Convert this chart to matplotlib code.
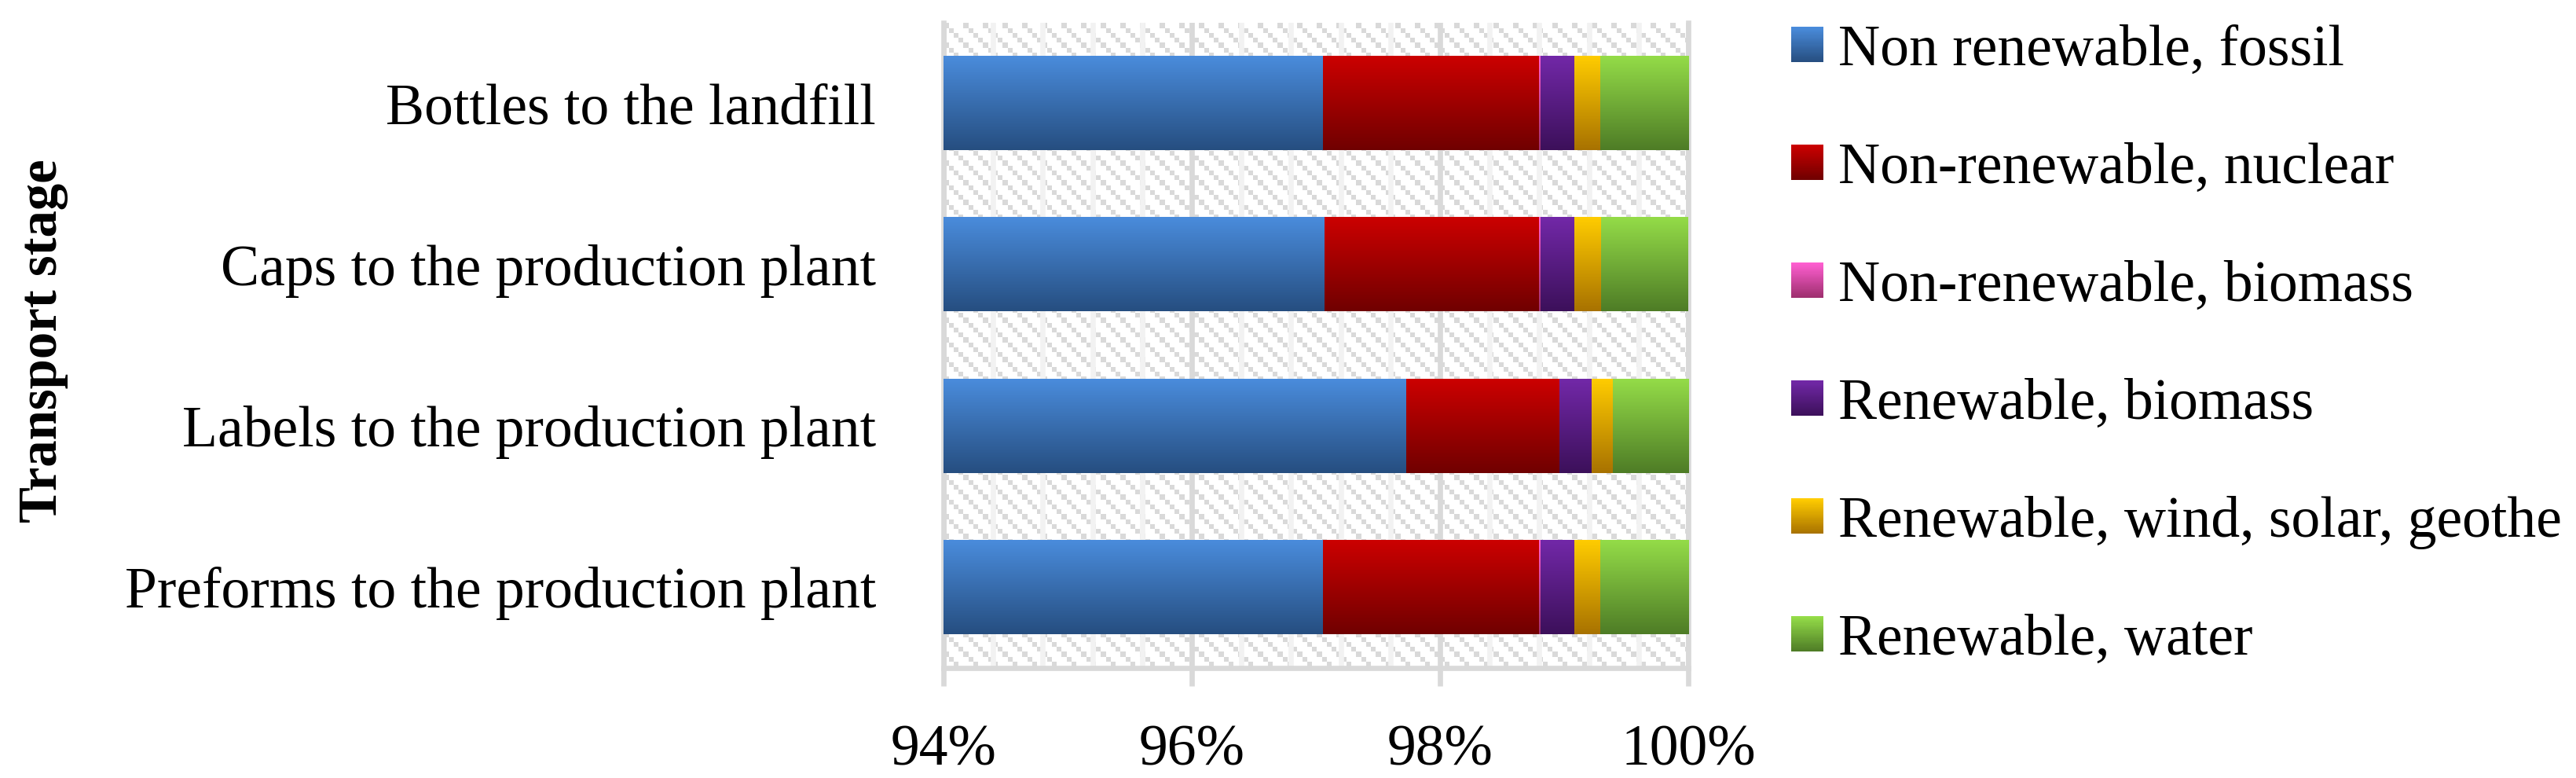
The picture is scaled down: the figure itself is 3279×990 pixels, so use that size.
import numpy as np
import matplotlib
matplotlib.use("Agg")
import matplotlib.pyplot as plt
from matplotlib.colors import LinearSegmentedColormap, to_rgb
from matplotlib.patches import Patch, Rectangle
from matplotlib.legend_handler import HandlerBase
from matplotlib.ticker import FixedLocator, MultipleLocator

# ---------------- data ----------------
categories = ["Preforms to the production plant",
              "Labels to the production plant",
              "Caps to the production plant",
              "Bottles to the landfill"]
series_names = ["Non renewable, fossil",
                "Non-renewable, nuclear",
                "Non-renewable, biomass",
                "Renewable, biomass",
                "Renewable, wind, solar, geothe",
                "Renewable, water"]
fossil = [97.06, 97.73, 97.07, 97.06]
nuclear = [1.74, 1.23, 1.73, 1.74]
nr_biomass = [0.01, 0.00, 0.01, 0.01]
r_biomass = [0.27, 0.26, 0.27, 0.27]
wind_solar = [0.21, 0.17, 0.22, 0.21]
water = [0.71, 0.61, 0.70, 0.71]
xticks = [94, 96, 98, 100]
xtick_labels = ["94%", "96%", "98%", "100%"]
y_title = "Transport stage"

series_values = [fossil, nuclear, nr_biomass, r_biomass, wind_solar, water]
grad_top = ["#4A8CDC", "#CC0000", "#FF5FD2", "#7228A8", "#FFCC00", "#94DC48"]
grad_bot = ["#264E80", "#700000", "#9E2F6E", "#3C105A", "#A87200", "#4E7C26"]

FONT = "Liberation Serif"
FS = 53

W_PX, H_PX = 3279, 990
fig = plt.figure(figsize=(W_PX / 100, H_PX / 100), dpi=100)
ax_l, ax_r, ax_t, ax_b = 1201, 2149, 29, 850
ax = fig.add_axes([ax_l / W_PX, 1 - ax_b / H_PX, (ax_r - ax_l) / W_PX, (ax_b - ax_t) / H_PX])

xmin, xmax = xticks[0], xticks[-1]
ymin, ymax = -0.5, len(categories) - 0.5

# background diagonal checker pattern
pw, ph = ax_r - ax_l, ax_b - ax_t
cell = 6.25
xx, yy = np.meshgrid(np.arange(pw), np.arange(ph))
mask = ((np.floor(xx / cell) - np.floor(yy / cell)) % 4) == 0
bg = np.ones((ph, pw, 3))
bg[mask] = to_rgb("#D9D9D9")
ax.imshow(bg, extent=(xmin, xmax, ymin, ymax), aspect="auto",
          interpolation="nearest", origin="upper", zorder=0.1)

# stacked bars with vertical gradients
ypos = np.arange(len(categories))
left = np.zeros(len(categories))
grad = np.linspace(0, 1, 256).reshape(-1, 1)
for vals, ct, cb in zip(series_values, grad_top, grad_bot):
    bars = ax.barh(ypos, vals, left=left, height=0.58, color=ct,
                   edgecolor="none", zorder=2)
    cmap = LinearSegmentedColormap.from_list("g", [cb, ct])
    for p in bars.patches:
        x0, y0 = p.get_x(), p.get_y()
        w, h = p.get_width(), p.get_height()
        if w <= 0:
            continue
        ax.imshow(grad, extent=(x0, x0 + w, y0, y0 + h), origin="lower",
                  cmap=cmap, aspect="auto", interpolation="bilinear",
                  zorder=2.1)
    left = left + np.array(vals)

ax.set_xlim(xmin, xmax)
ax.set_ylim(ymin, ymax)

# gridlines
ax.xaxis.set_major_locator(FixedLocator(xticks))
ax.set_xticklabels(xtick_labels)
ax.xaxis.set_minor_locator(MultipleLocator(0.4))
ax.grid(axis="x", which="major", color="#D9D9D9", linewidth=4.8, zorder=0.5)
ax.grid(axis="x", which="minor", color="#F2F2F2", linewidth=4.8, zorder=0.5)
ax.set_axisbelow(True)

ax.spines["top"].set_visible(False)
for s in ["left", "right", "bottom"]:
    ax.spines[s].set_color("#D9D9D9")
    ax.spines[s].set_linewidth(4.8)
    ax.spines[s].set_zorder(1.5)

ax.set_yticks(ypos)
ax.set_yticklabels(categories)
ax.tick_params(axis="y", length=0, pad=62)
ax.tick_params(axis="x", which="major", direction="out", length=16.5, width=4.8,
               color="#D9D9D9", pad=35)
ax.tick_params(axis="x", which="minor", length=0)
for lab in ax.get_xticklabels() + ax.get_yticklabels():
    lab.set_fontfamily(FONT)
    lab.set_fontsize(FS)
    lab.set_color("black")

fig.text(55 / W_PX, 1 - 434 / H_PX, y_title, rotation=90, ha="center", va="center",
         fontfamily=FONT, fontsize=49.5, fontweight="bold")


# legend with gradient squares
class GradHandler(HandlerBase):
    def __init__(self, top, bot, n=40):
        super().__init__()
        self.top = np.array(to_rgb(top))
        self.bot = np.array(to_rgb(bot))
        self.n = n

    def create_artists(self, legend, orig_handle, xdescent, ydescent, width,
                       height, fontsize, trans):
        arts = []
        for i in range(self.n):
            f = i / (self.n - 1)
            c = self.bot * (1 - f) + self.top * f
            r = Rectangle((-xdescent, -ydescent + i * height / self.n), width,
                          height / self.n * 1.08, facecolor=c, edgecolor="none",
                          transform=trans)
            arts.append(r)
        return arts


handles = [Patch(label=n) for n in series_names]
hmap = {h: GradHandler(t, b) for h, t, b in zip(handles, grad_top, grad_bot)}
leg = fig.legend(handles=handles, handler_map=hmap, loc="center left",
                 bbox_to_anchor=(2280 / W_PX, 1 - 440 / H_PX),
                 frameon=False, borderpad=0, borderaxespad=0,
                 handlelength=0.56, handleheight=0.56, handletextpad=0.26,
                 labelspacing=1.12, prop={"family": FONT, "size": FS})

fig.savefig("out.png", dpi=100)
